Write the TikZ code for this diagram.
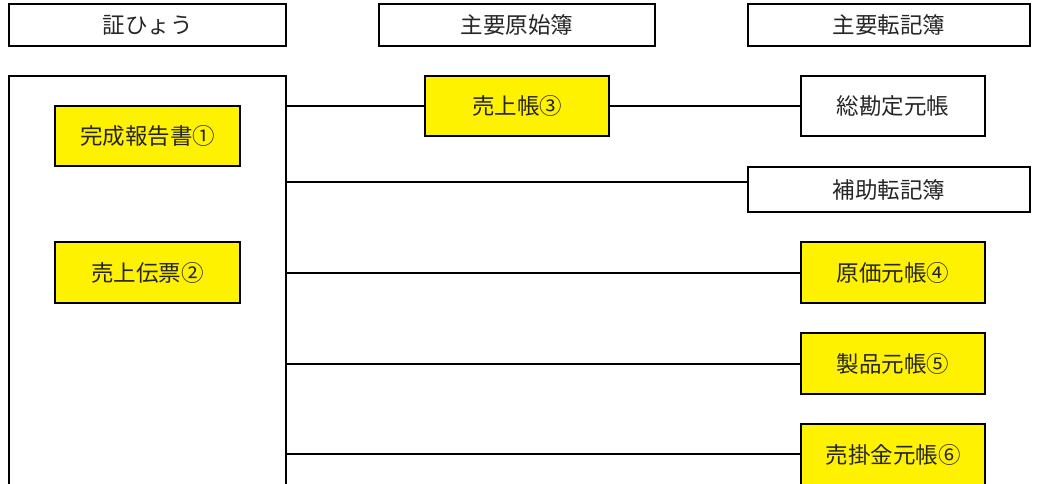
\documentclass[tikz,border=0pt]{standalone}
\usepackage{fontspec}
\newfontfamily\jpfont{Noto Sans CJK JP}
\begin{document}
\begin{tikzpicture}[x=1pt,y=-1pt,
  box/.style={draw=black, line width=2pt, fill=white, inner sep=0pt,
    font=\jpfont\fontsize{22.5}{26}\selectfont, text=black!85},
  ybox/.style={box, fill=yellow},
  conn/.style={draw=black, line width=1.5pt}]
\useasboundingbox (0,0) rectangle (1038,483);
\clip (0,0) rectangle (1038,483);
% headers
\node[box, minimum width=277pt, minimum height=42pt] (h1) at (147.5,25) {証ひょう};
\node[box, minimum width=276pt, minimum height=42pt] (h2) at (517,25) {主要原始簿};
\node[box, minimum width=282pt, minimum height=42pt] (h3) at (889,25) {主要転記簿};
% big open box
\coordinate (bl) at (9,490);
\coordinate (tl) at (9,76);
\coordinate (tr) at (286,76);
\coordinate (br) at (286,490);
\draw[line width=2pt] (bl) -- (tl) -- (tr) -- (br);
% vouchers
\node[ybox, minimum width=185pt, minimum height=60pt] (r1) at (147.5,136) {完成報告書①};
\node[ybox, minimum width=185pt, minimum height=61pt] (r2) at (147.5,272.5) {売上伝票②};
% journals / ledgers
\node[ybox, minimum width=184pt, minimum height=60pt] (u) at (517,106) {売上帳③};
\node[box, minimum width=184pt, minimum height=60pt] (g) at (893,106) {総勘定元帳};
\node[box, minimum width=282pt, minimum height=45pt] (s) at (889,189.5) {補助転記簿};
\node[ybox, minimum width=184pt, minimum height=61pt] (c4) at (893,272.5) {原価元帳④};
\node[ybox, minimum width=184pt, minimum height=61pt] (c5) at (893,363.5) {製品元帳⑤};
\node[ybox, minimum width=184pt, minimum height=61pt] (c6) at (893,454.5) {売掛金元帳⑥};
% connector start points on the big box's right side
\coordinate (p1) at (286,106);
\coordinate (p2) at (286,182);
\coordinate (p3) at (286,273);
\coordinate (p4) at (286,364);
\coordinate (p5) at (286,454);
\draw[conn] (p1) -- (u.west);
\draw[conn] (u.east) -- (g.west);
\draw[conn] (p2) -- (s.west |- p2);
\draw[conn] (p3) -- (c4.west |- p3);
\draw[conn] (p4) -- (c5.west |- p4);
\draw[conn] (p5) -- (c6.west |- p5);
\end{tikzpicture}
\end{document}
